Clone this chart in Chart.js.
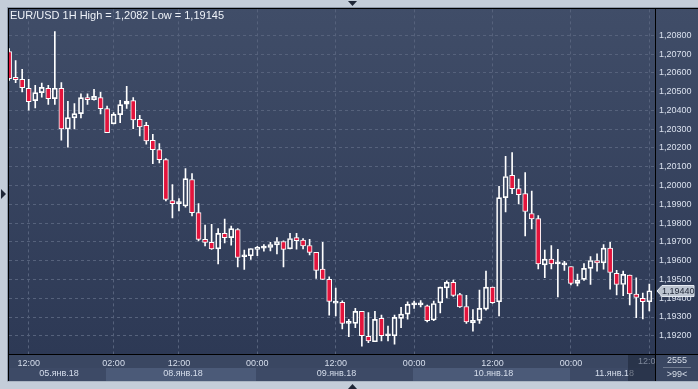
<!DOCTYPE html>
<html>
<head>
<meta charset="utf-8">
<script src="https://cdn.jsdelivr.net/npm/chart.js@4.4.1/dist/chart.umd.min.js"></script>
<style>
    html, body { margin: 0; padding: 0; background: #c4cdd9; }
    canvas { display: block; }
</style>
</head>
<body>
<canvas id="priceChart" width="698" height="389"></canvas>
<script>
// EUR/USD 1H, 05.01.18 09:00 -> 11.01.18 12:00
const symbol = 'EUR/USD';
const period = '1H';

const opens = [
    1.20714, 1.20576, 1.20565, 1.20518, 1.20452, 1.20495, 1.20518, 1.20463, 1.20518, 1.20301,
    1.20360, 1.20383, 1.20468, 1.20457, 1.20468, 1.20410, 1.20328, 1.20378, 1.20434, 1.20452,
    1.20353, 1.20321, 1.20241, 1.20191, 1.20138, 1.19920, 1.19904, 1.19891, 1.20032, 1.19856,
    1.19713, 1.19697, 1.19663, 1.19745, 1.19723, 1.19766, 1.19621, 1.19626, 1.19660, 1.19667,
    1.19670, 1.19684, 1.19702, 1.19663, 1.19723, 1.19709, 1.19681, 1.19644, 1.19555, 1.19500,
    1.19374, 1.19378, 1.19266, 1.19266, 1.19330, 1.19197, 1.19168, 1.19293, 1.19200, 1.19200,
    1.19293, 1.19315, 1.19365, 1.19365, 1.19360, 1.19284, 1.19376, 1.19455, 1.19484, 1.19420,
    1.19356, 1.19269, 1.19282, 1.19342, 1.19459, 1.19381, 1.19936, 1.20055, 1.19984, 1.19957,
    1.19851, 1.19824, 1.19578, 1.19608, 1.19583, 1.19578, 1.19569, 1.19479, 1.19500, 1.19559,
    1.19601, 1.19588, 1.19667, 1.19532, 1.19473, 1.19523, 1.19422, 1.19399, 1.19381
];
const highs = [
    1.20730, 1.20666, 1.20619, 1.20565, 1.20534, 1.20546, 1.20534, 1.20820, 1.20548, 1.20448,
    1.20436, 1.20489, 1.20489, 1.20512, 1.20496, 1.20423, 1.20388, 1.20454, 1.20528, 1.20468,
    1.20374, 1.20337, 1.20273, 1.20223, 1.20144, 1.20005, 1.19931, 1.20090, 1.20064, 1.19904,
    1.19789, 1.19794, 1.19771, 1.19821, 1.19784, 1.19771, 1.19656, 1.19665, 1.19677, 1.19686,
    1.19697, 1.19723, 1.19705, 1.19746, 1.19746, 1.19718, 1.19714, 1.19644, 1.19697, 1.19514,
    1.19454, 1.19386, 1.19287, 1.19346, 1.19330, 1.19324, 1.19330, 1.19310, 1.19252, 1.19310,
    1.19351, 1.19381, 1.19385, 1.19388, 1.19363, 1.19385, 1.19459, 1.19493, 1.19496, 1.19426,
    1.19415, 1.19340, 1.19443, 1.19544, 1.19459, 1.19996, 1.20156, 1.20176, 1.20034, 1.20069,
    1.19970, 1.19840, 1.19656, 1.19681, 1.19661, 1.19597, 1.19569, 1.19528, 1.19585, 1.19622,
    1.19636, 1.19686, 1.19698, 1.19549, 1.19544, 1.19523, 1.19509, 1.19427, 1.19475
];
const lows = [
    1.20560, 1.20548, 1.20498, 1.20402, 1.20413, 1.20471, 1.20432, 1.20432, 1.20241, 1.20205,
    1.20301, 1.20360, 1.20432, 1.20454, 1.20381, 1.20282, 1.20328, 1.20335, 1.20411, 1.20303,
    1.20264, 1.20220, 1.20117, 1.20120, 1.19918, 1.19828, 1.19865, 1.19885, 1.19838, 1.19705,
    1.19679, 1.19660, 1.19583, 1.19695, 1.19682, 1.19567, 1.19553, 1.19606, 1.19626, 1.19651,
    1.19652, 1.19636, 1.19567, 1.19663, 1.19661, 1.19663, 1.19631, 1.19505, 1.19500, 1.19310,
    1.19306, 1.19236, 1.19195, 1.19243, 1.19145, 1.19163, 1.19168, 1.19172, 1.19172, 1.19156,
    1.19243, 1.19289, 1.19346, 1.19354, 1.19274, 1.19280, 1.19322, 1.19402, 1.19410, 1.19351,
    1.19266, 1.19225, 1.19266, 1.19337, 1.19372, 1.19306, 1.19860, 1.19957, 1.19902, 1.19732,
    1.19769, 1.19556, 1.19509, 1.19556, 1.19407, 1.19548, 1.19471, 1.19466, 1.19495, 1.19473,
    1.19544, 1.19555, 1.19448, 1.19417, 1.19413, 1.19365, 1.19296, 1.19290, 1.19333
];
const closes = [
    1.20569, 1.20564, 1.20521, 1.20447, 1.20495, 1.20523, 1.20463, 1.20518, 1.20301, 1.20362,
    1.20383, 1.20468, 1.20457, 1.20475, 1.20410, 1.20282, 1.20379, 1.20431, 1.20448, 1.20349,
    1.20312, 1.20237, 1.20191, 1.20138, 1.19926, 1.19904, 1.19906, 1.20037, 1.19856, 1.19713,
    1.19697, 1.19663, 1.19745, 1.19723, 1.19771, 1.19617, 1.19624, 1.19665, 1.19667, 1.19669,
    1.19686, 1.19702, 1.19660, 1.19718, 1.19707, 1.19679, 1.19644, 1.19548, 1.19500, 1.19383,
    1.19377, 1.19266, 1.19268, 1.19330, 1.19200, 1.19172, 1.19287, 1.19200, 1.19202, 1.19298,
    1.19315, 1.19367, 1.19367, 1.19367, 1.19280, 1.19372, 1.19459, 1.19484, 1.19415, 1.19354,
    1.19274, 1.19282, 1.19346, 1.19459, 1.19376, 1.19936, 1.20048, 1.19984, 1.19952, 1.19862,
    1.19822, 1.19583, 1.19608, 1.19583, 1.19584, 1.19580, 1.19479, 1.19495, 1.19559, 1.19601,
    1.19588, 1.19667, 1.19537, 1.19473, 1.19527, 1.19423, 1.19404, 1.19381, 1.19440
];

// bar index of each time label
const tickIdx = [3, 16, 26, 38, 50, 62, 74, 86, 98];
const tickText = ['12:00', '02:00', '12:00', '00:00', '12:00', '00:00', '12:00', '00:00', '12:00'];
// first bar of each day
const dayStart = [0, 15, 38, 62, 86];
const dayText = ['05.янв.18', '08.янв.18', '09.янв.18', '10.янв.18', '11.янв.18'];
const priceTicks = [1.192, 1.193, 1.194, 1.195, 1.196, 1.197, 1.198, 1.199, 1.200,
    1.201, 1.202, 1.203, 1.204, 1.205, 1.206, 1.207, 1.208];

const FAMILY = '"Liberation Sans", Arial, sans-serif';
const FONT = '9px ' + FAMILY;
const fmt = v => v.toFixed(5).replace('.', ',');
const fmtShort = v => fmt(v).replace(/0+$/, '');

const idx = opens.map((_, i) => i);
const bodies = idx.map(i => ({ x: i, y: [opens[i], closes[i]] }));
const upperWicks = idx.map(i => ({ x: i, y: [Math.max(opens[i], closes[i]), highs[i]] }));
const lowerWicks = idx.map(i => ({ x: i, y: [lows[i], Math.min(opens[i], closes[i])] }));

const framePlugin = {
    id: 'frame',
    beforeDraw(chart) {
        const { ctx, chartArea: a, scales: { x } } = chart;
        ctx.save();
        ctx.fillStyle = '#c4cdd9';
        ctx.fillRect(0, 0, 698, 389);

        const g = ctx.createLinearGradient(0, 8, 0, a.bottom);
        g.addColorStop(0, '#404d68');
        g.addColorStop(1, '#2d3955');
        ctx.fillStyle = g;
        ctx.fillRect(8, 8, 690, a.bottom - 8);

        // time axis rows
        ctx.fillStyle = '#3a4762';
        ctx.fillRect(8, a.bottom, 690, 381 - a.bottom);
        ctx.font = FONT;
        ctx.textAlign = 'center';
        ctx.textBaseline = 'middle';
        dayStart.forEach((d, k) => {
            const x0 = k === 0 ? 8 : Math.round(x.getPixelForValue(d)) - 1;
            const x1 = k === dayStart.length - 1 ? a.right : Math.round(x.getPixelForValue(dayStart[k + 1])) - 1;
            ctx.fillStyle = k % 2 ? '#4b5a78' : '#3d4a66';
            ctx.fillRect(x0, 368, x1 - x0, 13);
            ctx.fillStyle = '#d6deec';
            ctx.fillText(dayText[k], (x0 + x1) / 2 + 2, 374);
        });

        // grey edges
        ctx.fillStyle = '#8c97a8';
        ctx.fillRect(7, 7, 691, 1);
        ctx.fillRect(7, 7, 1, 375);
        ctx.fillStyle = '#aab4c2';
        ctx.fillRect(7, 381, 691, 1);
        ctx.restore();
    },
    afterDraw(chart) {
        const { ctx, chartArea: a, scales: { x, y } } = chart;
        ctx.save();
        ctx.font = FONT;

        // running bar area on the time axis
        ctx.fillStyle = 'rgba(28, 36, 55, 0.55)';
        ctx.fillRect(628, a.bottom, a.right - 628, 381 - a.bottom);
        ctx.save();
        ctx.beginPath();
        ctx.rect(628, a.bottom, a.right - 628, 14);
        ctx.clip();
        ctx.fillStyle = '#7d879a';
        ctx.textAlign = 'center';
        ctx.textBaseline = 'middle';
        const last = tickIdx.length - 1;
        ctx.fillText(tickText[last], x.getPixelForValue(tickIdx[last]), 362);
        ctx.restore();

        // frame lines
        ctx.fillStyle = '#000';
        ctx.fillRect(8, 8, 690, 1);
        ctx.fillRect(8, 8, 1, 373);
        ctx.fillRect(a.right, 8, 1, 373);
        ctx.fillRect(8, a.bottom, 690, 1);

        // title
        ctx.fillStyle = '#eef2f8';
        ctx.textAlign = 'left';
        ctx.textBaseline = 'alphabetic';
        ctx.font = '11px ' + FAMILY;
        ctx.fillText(symbol + ' ' + period + ' High = ' + fmtShort(Math.max(...highs)) +
            ' Low = ' + fmtShort(Math.min(...lows)), 10, 19);
        ctx.font = FONT;

        // last price marker
        const lp = closes[closes.length - 1];
        const py = Math.round(y.getPixelForValue(lp));
        ctx.beginPath();
        ctx.moveTo(a.right + 2, py);
        ctx.lineTo(a.right + 7, py - 5.5);
        ctx.lineTo(694, py - 5.5);
        ctx.lineTo(694, py + 5.5);
        ctx.lineTo(a.right + 7, py + 5.5);
        ctx.closePath();
        ctx.fillStyle = '#bcc4d0';
        ctx.fill();
        ctx.strokeStyle = '#e6ebf2';
        ctx.lineWidth = 1;
        ctx.stroke();
        ctx.fillStyle = '#222a3a';
        ctx.textBaseline = 'middle';
        ctx.fillText(fmt(lp), a.right + 7, py + 0.5);

        // corner counters
        ctx.fillStyle = '#d8dfea';
        ctx.textAlign = 'center';
        ctx.fillText('2555', 677, 361);
        ctx.fillText('>99<', 677, 374.5);
        ctx.fillStyle = '#6d788d';
        ctx.fillRect(663, 367, 28, 1);

        // scroll arrows
        ctx.fillStyle = '#1e2636';
        ctx.beginPath();
        ctx.moveTo(348, 1); ctx.lineTo(357, 1); ctx.lineTo(352.5, 6); ctx.closePath();
        ctx.fill();
        ctx.beginPath();
        ctx.moveTo(348, 389); ctx.lineTo(357, 389); ctx.lineTo(352.5, 384); ctx.closePath();
        ctx.fill();
        ctx.beginPath();
        ctx.moveTo(1, 189); ctx.lineTo(6, 194); ctx.lineTo(1, 199); ctx.closePath();
        ctx.fill();
        ctx.restore();
    }
};

const ctx = document.getElementById('priceChart').getContext('2d');
new Chart(ctx, {
    type: 'bar',
    data: {
        datasets: [{
            label: 'body',
            data: bodies,
            backgroundColor: c => closes[c.dataIndex] < opens[c.dataIndex] ? '#e3143c' : 'rgba(0,0,0,0)',
            borderColor: '#ffffff',
            borderWidth: 1,
            borderSkipped: false,
            barThickness: 5,
            minBarLength: 2,
            grouped: false
        }, {
            label: 'upper',
            data: upperWicks,
            backgroundColor: '#ffffff',
            barThickness: 1,
            grouped: false
        }, {
            label: 'lower',
            data: lowerWicks,
            backgroundColor: '#ffffff',
            barThickness: 1,
            grouped: false
        }]
    },
    options: {
        responsive: false,
        animation: false,
        devicePixelRatio: 1,
        layout: { padding: { left: 9, top: 9, right: 0, bottom: 8 } },
        plugins: {
            legend: { display: false },
            tooltip: { enabled: false }
        },
        scales: {
            x: {
                type: 'linear',
                min: -0.015,
                max: 98.87,
                offset: false,
                afterBuildTicks: s => { s.ticks = tickIdx.map(v => ({ value: v })); },
                afterFit: s => { s.height = 27; },
                grid: { color: '#56627c', offset: false, drawTicks: false },
                border: { display: false, dash: [3, 3] },
                ticks: {
                    autoSkip: false,
                    maxRotation: 0,
                    padding: 4,
                    color: '#d6deec',
                    font: { family: FAMILY, size: 9 },
                    callback: (v, i) => i < tickIdx.length - 1 ? tickText[i] : ''
                }
            },
            y: {
                position: 'right',
                min: 1.19103,
                max: 1.20938,
                beginAtZero: false,
                afterBuildTicks: s => { s.ticks = priceTicks.map(v => ({ value: v })); },
                afterFit: s => { s.width = 43; },
                grid: { color: '#56627c', drawTicks: false },
                border: { display: false, dash: [3, 3] },
                ticks: {
                    padding: 4,
                    color: '#d9e0ed',
                    font: { family: FAMILY, size: 9 },
                    callback: v => fmt(v)
                }
            }
        }
    },
    plugins: [framePlugin]
});
</script>
</body>
</html>
